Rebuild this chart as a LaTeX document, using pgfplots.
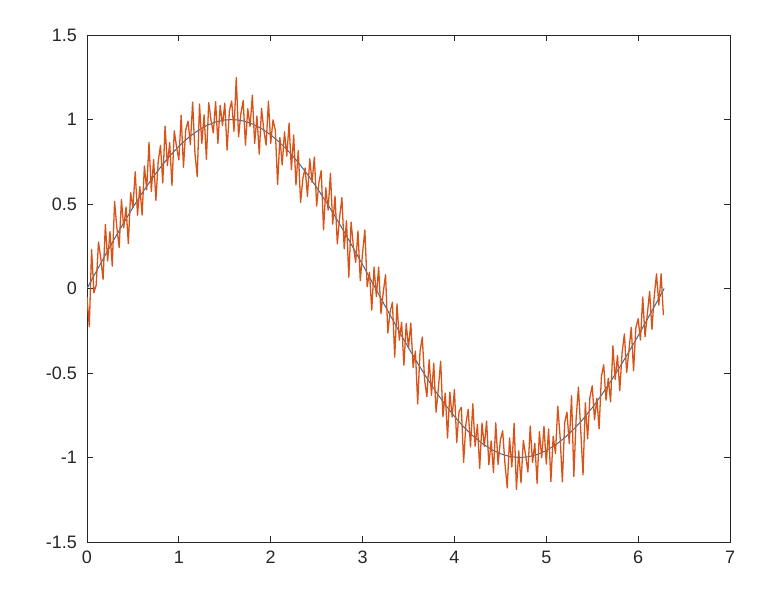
\documentclass[border=0pt]{standalone}
\usepackage{pgfplots}
\pgfplotsset{compat=1.18}
\usepackage{fontspec}
\setmainfont{Liberation Sans}
\usetikzlibrary{calc}
\definecolor{mblue}{rgb}{0,0.447,0.741}
\definecolor{morange}{rgb}{0.85,0.325,0.098}
\definecolor{axgray}{rgb}{0.15,0.15,0.15}
\begin{document}
\begin{tikzpicture}
\begin{axis}[
  scale only axis,
  width=321.5pt, height=253.5pt,
  xmin=0, xmax=7, ymin=-1.5, ymax=1.5,
  xtick={0,1,...,7},
  ytick={-1.5,-1,-0.5,0,0.5,1,1.5},
  yticklabels={-1.5,-1,-0.5,0,0.5,1,1.5},
  /pgf/number format/assume math mode=true,
  tick align=inside,
  major tick length=3pt,
  axis line style={axgray, line width=0.5pt},
  tick style={axgray, line width=0.5pt},
  ticklabel style={font=\fontsize{9}{10.5}\selectfont, text=axgray},
  xticklabel style={yshift=-1pt},
  yticklabel style={xshift=-1.5pt},
]
\addplot[mblue!80!gray, line width=0.5pt] coordinates {
(0,0) (0.1,0.0998) (0.2,0.1987) (0.3,0.2955) (0.4,0.3894) (0.5,0.4794) (0.6,0.5646) (0.7,0.6442) (0.8,0.7174) (0.9,0.7833)
(1.0,0.8415) (1.1,0.8912) (1.2,0.9320) (1.3,0.9636) (1.4,0.9854) (1.5,0.9975) (1.6,0.9996) (1.7,0.9917) (1.8,0.9738) (1.9,0.9463)
(2.0,0.9093) (2.1,0.8632) (2.2,0.8085) (2.3,0.7457) (2.4,0.6755) (2.5,0.5985) (2.6,0.5155) (2.7,0.4274) (2.8,0.3350) (2.9,0.2392)
(3.0,0.1411) (3.1,0.0416) (3.2,-0.0584) (3.3,-0.1577) (3.4,-0.2555) (3.5,-0.3508) (3.6,-0.4425) (3.7,-0.5298) (3.8,-0.6119) (3.9,-0.6878)
(4.0,-0.7568) (4.1,-0.8183) (4.2,-0.8716) (4.3,-0.9162) (4.4,-0.9516) (4.5,-0.9775) (4.6,-0.9937) (4.7,-0.9999) (4.8,-0.9962) (4.9,-0.9825)
(5.0,-0.9589) (5.1,-0.9258) (5.2,-0.8835) (5.3,-0.8323) (5.4,-0.7728) (5.5,-0.7055) (5.6,-0.6313) (5.7,-0.5507) (5.8,-0.4646) (5.9,-0.3739)
(6.0,-0.2794) (6.1,-0.1822) (6.2,-0.0831) (6.2832,0)
};
\addplot[morange, line width=0.65pt, line join=round] coordinates {
(0.000,-0.050) (0.025,-0.225) (0.050,0.230) (0.075,-0.025) (0.100,0.020) (0.125,0.275) (0.150,0.179) (0.175,0.054) (0.200,0.379) (0.225,0.163)
(0.250,0.337) (0.275,0.132) (0.300,0.516) (0.325,0.359) (0.350,0.243) (0.375,0.526) (0.400,0.359) (0.425,0.482) (0.450,0.265) (0.475,0.567)
(0.500,0.479) (0.525,0.691) (0.550,0.433) (0.575,0.604) (0.600,0.435) (0.625,0.725) (0.650,0.585) (0.675,0.865) (0.700,0.574) (0.725,0.763)
(0.750,0.522) (0.775,0.750) (0.800,0.847) (0.825,0.625) (0.850,0.961) (0.875,0.728) (0.900,0.863) (0.925,0.609) (0.950,0.933) (0.975,0.838)
(1.000,0.761) (1.025,1.025) (1.050,0.717) (1.075,0.939) (1.100,0.991) (1.125,0.852) (1.150,1.103) (1.175,0.803) (1.200,0.662) (1.225,1.091)
(1.250,0.859) (1.275,1.027) (1.300,0.764) (1.325,1.100) (1.350,0.996) (1.375,0.921) (1.400,1.105) (1.425,0.859) (1.450,1.083) (1.475,0.965)
(1.500,1.097) (1.525,0.819) (1.550,1.050) (1.575,1.110) (1.600,0.930) (1.625,1.249) (1.650,0.897) (1.675,1.035) (1.700,1.112) (1.725,0.848)
(1.750,1.064) (1.775,0.959) (1.800,1.144) (1.825,0.858) (1.850,1.021) (1.875,0.794) (1.900,1.066) (1.925,0.938) (1.950,0.849) (1.975,1.109)
(2.000,0.859) (2.025,0.998) (2.050,0.937) (2.075,0.616) (2.100,0.893) (2.125,0.731) (2.150,0.927) (2.175,0.783) (2.200,0.978) (2.225,0.703)
(2.250,0.908) (2.275,0.612) (2.300,0.816) (2.325,0.509) (2.350,0.651) (2.375,0.713) (2.400,0.545) (2.425,0.767) (2.450,0.628) (2.475,0.778)
(2.500,0.488) (2.525,0.628) (2.550,0.698) (2.575,0.347) (2.600,0.596) (2.625,0.464) (2.650,0.682) (2.675,0.380) (2.700,0.547) (2.725,0.264)
(2.750,0.421) (2.775,0.538) (2.800,0.235) (2.825,0.401) (2.850,0.067) (2.875,0.393) (2.900,0.249) (2.925,0.155) (2.950,0.340) (2.975,0.046)
(3.000,0.211) (3.025,0.346) (3.050,0.011) (3.075,0.096) (3.100,-0.128) (3.125,0.127) (3.150,-0.048) (3.175,0.127) (3.200,-0.148) (3.225,-0.023)
(3.250,0.082) (3.275,-0.263) (3.300,-0.138) (3.325,-0.082) (3.350,-0.407) (3.375,-0.091) (3.400,-0.306) (3.425,-0.200) (3.450,-0.454) (3.475,-0.207)
(3.500,-0.351) (3.525,-0.204) (3.550,-0.467) (3.575,-0.370) (3.600,-0.683) (3.625,-0.375) (3.650,-0.287) (3.675,-0.539) (3.700,-0.640) (3.725,-0.421)
(3.750,-0.632) (3.775,-0.442) (3.800,-0.732) (3.825,-0.591) (3.850,-0.430) (3.875,-0.759) (3.900,-0.618) (3.925,-0.885) (3.950,-0.613) (3.975,-0.760)
(4.000,-0.597) (4.025,-0.912) (4.050,-0.728) (4.075,-0.703) (4.100,-1.028) (4.125,-0.802) (4.150,-0.715) (4.175,-0.938) (4.200,-0.682) (4.225,-0.933)
(4.250,-0.804) (4.275,-1.065) (4.300,-0.796) (4.325,-0.935) (4.350,-0.784) (4.375,-1.043) (4.400,-0.902) (4.425,-1.088) (4.450,-0.795) (4.475,-1.041)
(4.500,-0.898) (4.525,-0.842) (4.550,-1.036) (4.575,-1.180) (4.600,-0.884) (4.625,-1.056) (4.650,-0.798) (4.675,-1.189) (4.700,-0.960) (4.725,-1.150)
(4.750,-0.899) (4.775,-0.988) (4.800,-1.086) (4.825,-0.813) (4.850,-1.030) (4.875,-0.916) (4.900,-1.153) (4.925,-0.847) (4.950,-1.001) (4.975,-0.815)
(5.000,-1.039) (5.025,-0.831) (5.050,-1.143) (5.075,-0.874) (5.100,-0.976) (5.125,-0.696) (5.150,-0.875) (5.175,-1.144) (5.200,-0.794) (5.225,-0.731)
(5.250,-0.918) (5.275,-0.635) (5.300,-1.112) (5.325,-0.768) (5.350,-0.583) (5.375,-0.838) (5.400,-1.103) (5.425,-0.676) (5.450,-0.890) (5.475,-0.643)
(5.500,-0.576) (5.525,-0.777) (5.550,-0.649) (5.575,-0.830) (5.600,-0.521) (5.625,-0.451) (5.650,-0.661) (5.675,-0.531) (5.700,-0.671) (5.725,-0.339)
(5.750,-0.538) (5.775,-0.396) (5.800,-0.605) (5.825,-0.382) (5.850,-0.269) (5.875,-0.497) (5.900,-0.364) (5.925,-0.230) (5.950,-0.487) (5.975,-0.233)
(6.000,-0.179) (6.025,-0.305) (6.050,-0.051) (6.075,-0.286) (6.100,-0.152) (6.125,-0.017) (6.150,-0.242) (6.175,-0.048) (6.200,0.087) (6.225,-0.098)
(6.250,0.087) (6.275,-0.158)
};
\end{axis}
\path ($(current axis.south west)+(-43.5pt,-29pt)$) rectangle ($(current axis.north east)+(18pt,17.5pt)$);
\end{tikzpicture}
\end{document}
